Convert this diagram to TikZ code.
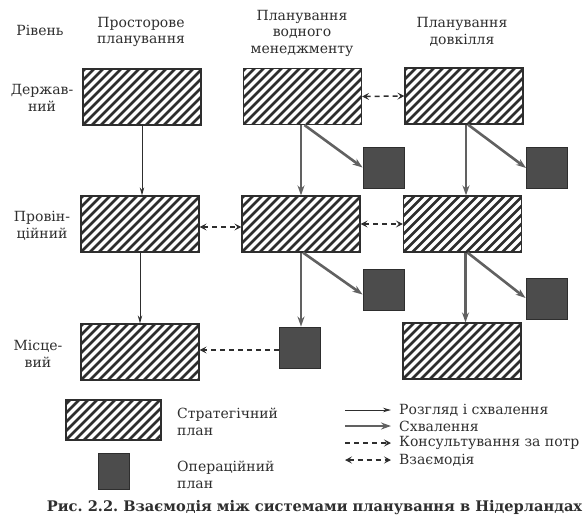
\documentclass[tikz,border=0pt]{standalone}
\usepackage{fontspec}
\setmainfont{DejaVu Serif}
\usetikzlibrary{arrows.meta}
\definecolor{ink}{gray}{0.18}
\definecolor{approve}{gray}{0.38}
\definecolor{opfill}{gray}{0.30}
\frenchspacing
\begin{document}
\begin{tikzpicture}[x=1pt,y=-1pt,
  strat/.style={draw=ink, line width=1.2pt, minimum width=118pt, minimum height=56pt, inner sep=0pt,
    path picture={\foreach \k in {-10,...,15}{\draw[ink, line width=2.6pt] ([xshift=\k*9pt]path picture bounding box.south west) -- ++(90,-90);}}},
  oper/.style={draw=ink, line width=0.9pt, fill=opfill, minimum width=41pt, minimum height=41pt, inner sep=0pt},
  lbl/.style={font=\fontsize{14}{16.5}\selectfont, text=ink, align=center, inner sep=1pt},
  revarrow/.style={draw=ink, line width=0.9pt, -{Stealth[length=8pt,width=4.5pt]}},
  apparrow/.style={draw=approve, line width=2.6pt, -{Stealth[length=10pt,width=7pt]}},
  consult/.style={draw=ink, line width=1.5pt, dash pattern=on 5pt off 4pt, -{Stealth[length=7pt,width=7pt,inset=3pt]}},
  interact/.style={draw=ink, line width=1.5pt, dash pattern=on 5pt off 4pt, {Stealth[length=7pt,width=7pt,inset=3pt]}-{Stealth[length=7pt,width=7pt,inset=3pt]}}
]
\useasboundingbox (0,0) rectangle (584,528);
% headers
\node[lbl] (h0) at (40,30) {Рівень};
\node[lbl] (h1) at (141,32) {Просторове\\планування};
\node[lbl] (h2) at (302,33) {Планування\\водного\\менеджменту};
\node[lbl] (h3) at (462,32) {Планування\\довкілля};
\node[lbl] (r1) at (42,98) {Держав-\\ний};
\node[lbl] (r2) at (42,226) {Провін-\\ційний};
\node[lbl] (r3) at (38,354) {Місце-\\вий};
% strategic plans
\node[strat] (b11) at (142,97) {};
\node[strat] (b12) at (302.5,96.5) {};
\node[strat] (b13) at (464,96) {};
\node[strat] (b21) at (140,224) {};
\node[strat] (b22) at (301,224) {};
\node[strat] (b23) at (462.5,224) {};
\node[strat] (b31) at (140,352) {};
\node[strat] (b33) at (462,351) {};
% operational plans
\node[oper] (d1) at (383.5,167.5) {};
\node[oper] (d2) at (547,168) {};
\node[oper] (d3) at (383.5,289.5) {};
\node[oper] (d4) at (546.5,299) {};
\node[oper] (d5) at (299.5,347.5) {};
% arrows
\draw[revarrow] (b11.south) -- (b11.south |- b21.north);
\draw[revarrow] (b21.south) -- (b21.south |- b31.north);
\draw[apparrow] (b22.north |- b12.south) -- (b22.north);
\draw[apparrow] (b22.south) -- (b22.south |- d5.north);
\draw[apparrow] ([xshift=2pt]b13.south) -- ([xshift=2pt]b13.south |- b23.north);
\draw[apparrow] ([xshift=3pt]b23.south) -- ([xshift=3pt]b23.south |- b33.north);
\draw[apparrow] ([xshift=2pt]b12.south) -- (d1.west);
\draw[apparrow] ([xshift=2pt]b22.south) -- ([yshift=-5pt]d3.west);
\draw[apparrow] ([xshift=4pt]b13.south) -- (d2.west);
\draw[apparrow] ([xshift=5pt]b23.south) -- ([yshift=1pt]d4.west);
\draw[interact] (b12.east) -- (b13.west);
\draw[interact] ([yshift=-3pt]b21.east) -- ([yshift=-3pt]b21.east -| b22.west);
\draw[interact] (b22.east) -- (b23.west);
\draw[consult] ([yshift=-2.5pt]d5.west) -- ([yshift=-2.5pt]d5.west -| b31.east);
% legend
\node[strat, minimum width=95pt, minimum height=40pt] (ls) at (113.5,420) {};
\node[oper, minimum width=31pt, minimum height=36pt] (lo) at (113.5,471) {};
\node[lbl, anchor=west, align=left] (lst) at (176,422) {Стратегічний\\план};
\node[lbl, anchor=west, align=left] (lot) at (176,475) {Операційний\\план};
\node[lbl, anchor=west, align=left] (t1) at (398,410) {Розгляд і схвалення};
\node[lbl, anchor=west, align=left] (t2) at (398,426) {Схвалення};
\node[lbl, anchor=west, align=left] (t3) at (398,443) {Консультування за потр};
\node[lbl, anchor=west, align=left] (t4) at (398,460) {Взаємодія};
\coordinate (l1) at (345,410);
\coordinate (l2) at (345,426);
\coordinate (l3) at (345,443);
\coordinate (l4) at (345,460);
\draw[revarrow] (l1) -- ([xshift=-7pt]t1.west);
\draw[apparrow] (l2) -- ([xshift=-7pt]t2.west);
\draw[consult] (l3) -- ([xshift=-7pt]t3.west);
\draw[interact] (l4) -- ([xshift=-7pt]t4.west);
% caption
\node[lbl, font=\fontsize{14.6}{17}\selectfont\bfseries] (cap) at (314.5,508) {Рис. 2.2. Взаємодія між системами планування в Нідерландах};
\end{tikzpicture}
\end{document}
